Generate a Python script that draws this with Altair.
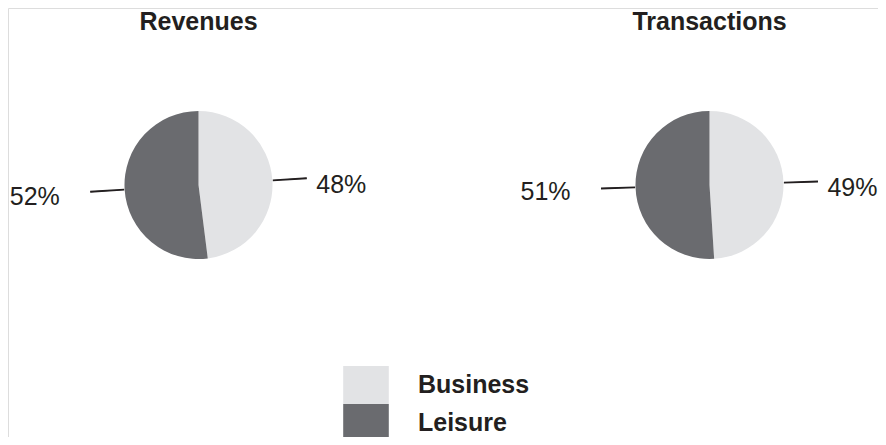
import math
import altair as alt
import pandas as pd

metrics = ["Revenues", "Transactions"]
segments = ["Business", "Leisure"]
revenues = [48, 52]
transactions = [49, 51]
colors = ["#e2e3e5", "#6a6b6f"]

rows = []
for m, vals in zip(metrics, [revenues, transactions]):
    for i, (s, v) in enumerate(zip(segments, vals)):
        rows.append({"metric": m, "segment": s, "value": v, "order": i})
df = pd.DataFrame(rows)
titles = pd.DataFrame({"metric": metrics})

FONT = "Liberation Sans"
TXT = "#231f20"

xscale = alt.Scale(type="point", domain=metrics, range=[190.5, 701.5], padding=0)
tscale = alt.Scale(domain=[0, 100], range=[0, 2 * math.pi])
CY = 177

base = alt.Chart(df).transform_window(
    end="sum(value)", groupby=["metric"], sort=[alt.SortField("order")]
).transform_calculate(
    start="datum.end - datum.value",
    mid="datum.end - datum.value / 2",
    lo="datum.end - datum.value / 2 - 0.07",
    hi="datum.end - datum.value / 2 + 0.07",
    label="datum.value + '%'",
)

X = alt.X("metric:N", scale=xscale, axis=None)

pies = base.mark_arc(radius=74).encode(
    x=X,
    y=alt.value(CY),
    theta=alt.Theta("start:Q", scale=tscale, stack=None),
    theta2=alt.Theta2("end:Q"),
    color=alt.Color(
        "segment:N",
        scale=alt.Scale(domain=segments, range=colors),
        legend=alt.Legend(
            title=None,
            orient="none",
            legendX=339,
            legendY=358,
            symbolType="M-1.2,-1H1.2V1H-1.2Z",
            symbolSize=1444,
            symbolStrokeWidth=0,
            symbolOpacity=1,
            rowPadding=0,
            padding=0,
            labelFont=FONT,
            labelFontSize=25,
            labelFontWeight="bold",
            labelColor=TXT,
            labelOffset=33,
        ),
    ),
)

leaders = base.mark_arc(radius=108, innerRadius=75, color=TXT,
                        stroke=TXT, strokeWidth=1.1).encode(
    x=X,
    y=alt.value(CY),
    theta=alt.Theta("lo:Q", scale=tscale, stack=None),
    theta2=alt.Theta2("hi:Q"),
)

labels_right = base.transform_filter("datum.mid < 50").mark_text(
    radius=118, font=FONT, fontSize=25, color=TXT,
    align="left", baseline="middle", dy=7
).encode(
    x=X,
    y=alt.value(CY),
    theta=alt.Theta("mid:Q", scale=tscale, stack=None),
    text="label:N",
)

labels_left = base.transform_filter("datum.mid >= 50").mark_text(
    radius=139, font=FONT, fontSize=25, color=TXT,
    align="right", baseline="middle", dy=3
).encode(
    x=X,
    y=alt.value(CY),
    theta=alt.Theta("mid:Q", scale=tscale, stack=None),
    text="label:N",
)

title_text = alt.Chart(titles).mark_text(
    font=FONT, fontSize=25, fontWeight="bold", color=TXT, baseline="middle"
).encode(
    x=X,
    y=alt.value(14),
    text="metric:N",
)

chart = alt.layer(pies, leaders, labels_right, labels_left, title_text).properties(
    width=870, height=429, autosize=alt.AutoSizeParams(type="none"), padding=0
).configure_view(stroke=None).configure(background="white")

chart.save("out.html", embed_options={"renderer": "svg", "actions": False})
